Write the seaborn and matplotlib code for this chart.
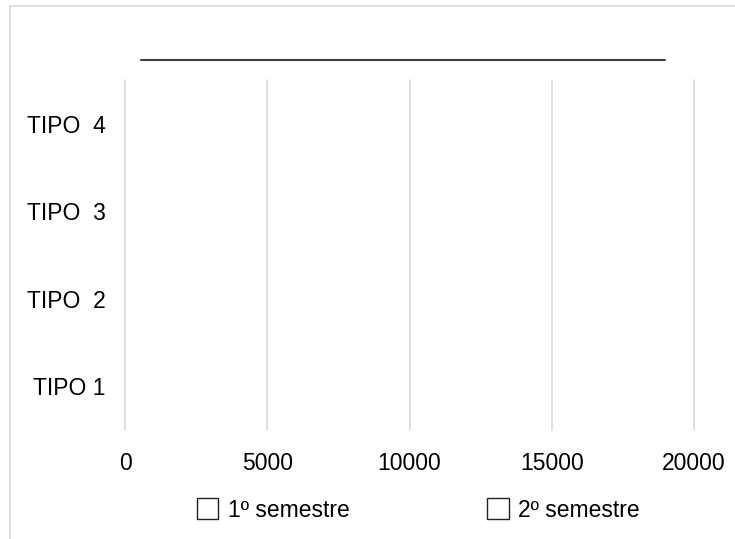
import matplotlib
matplotlib.use("Agg")
import matplotlib.pyplot as plt
import matplotlib.patches as mpatches
from matplotlib.lines import Line2D
import pandas as pd
import seaborn as sns

categories = ["TIPO  4", "TIPO  3", "TIPO  2", "TIPO 1"]
series_names = ["1º semestre", "2º semestre"]
sem1_values = [0, 0, 0, 0]
sem2_values = [0, 0, 0, 0]
x_ticks = [0, 5000, 10000, 15000, 20000]

df = pd.DataFrame({
    "tipo": categories * 2,
    "valor": sem1_values + sem2_values,
    "serie": [series_names[0]] * 4 + [series_names[1]] * 4,
})

sns.set_style("white")
plt.rcParams["font.family"] = ["Liberation Sans", "DejaVu Sans"]
plt.rcParams["text.color"] = "black"
plt.rcParams["xtick.color"] = "black"
plt.rcParams["ytick.color"] = "black"

fig = plt.figure(figsize=(7.35, 5.39), dpi=100)
ax = fig.add_axes([125 / 735, 1 - 430 / 539, (694 - 125) / 735, 350 / 539])

sns.barplot(data=df, y="tipo", x="valor", hue="serie", orient="h",
            palette=["white", "white"], linewidth=0, ax=ax, legend=False)

ax.set_xlim(0, 20000)
ax.set_ylim(3.5, -0.5)
ax.set_xticks(x_ticks)
ax.set_xticklabels([str(t) for t in x_ticks])
ax.set_axisbelow(False)
ax.xaxis.grid(True, color="#d9d9d9", linewidth=1.2)
for gl in ax.get_xgridlines():
    gl.set_clip_on(False)
ax.yaxis.grid(False)
for s in ax.spines.values():
    s.set_visible(False)
ax.tick_params(axis="x", length=0, pad=16, labelsize=16.5, colors="black")
ax.tick_params(axis="y", length=0, pad=14, labelsize=16.5, colors="black")
ax.set_xlabel("")
ax.set_ylabel("")

# title placeholder line
fig.add_artist(Line2D([141 / 735, 665 / 735], [1 - 60 / 539] * 2,
                      color="#404040", linewidth=1.5))

# outer chart border
fig.add_artist(Line2D([10 / 735, 10 / 735], [0, 1 - 6 / 539], color="#d9d9d9", linewidth=1.2))
fig.add_artist(Line2D([10 / 735, 1], [1 - 6 / 539] * 2, color="#d9d9d9", linewidth=1.2))

handles = [mpatches.Patch(facecolor="white", edgecolor="#222222", linewidth=1) for _ in series_names]
fig.legend(handles, series_names, loc="center", bbox_to_anchor=(418 / 735, 1 - 510 / 539),
           ncol=2, frameon=False, fontsize=16.5, columnspacing=6.0,
           handlelength=0.95, handleheight=1.0, handletextpad=0.4)

fig.savefig("out.png", dpi=100)
